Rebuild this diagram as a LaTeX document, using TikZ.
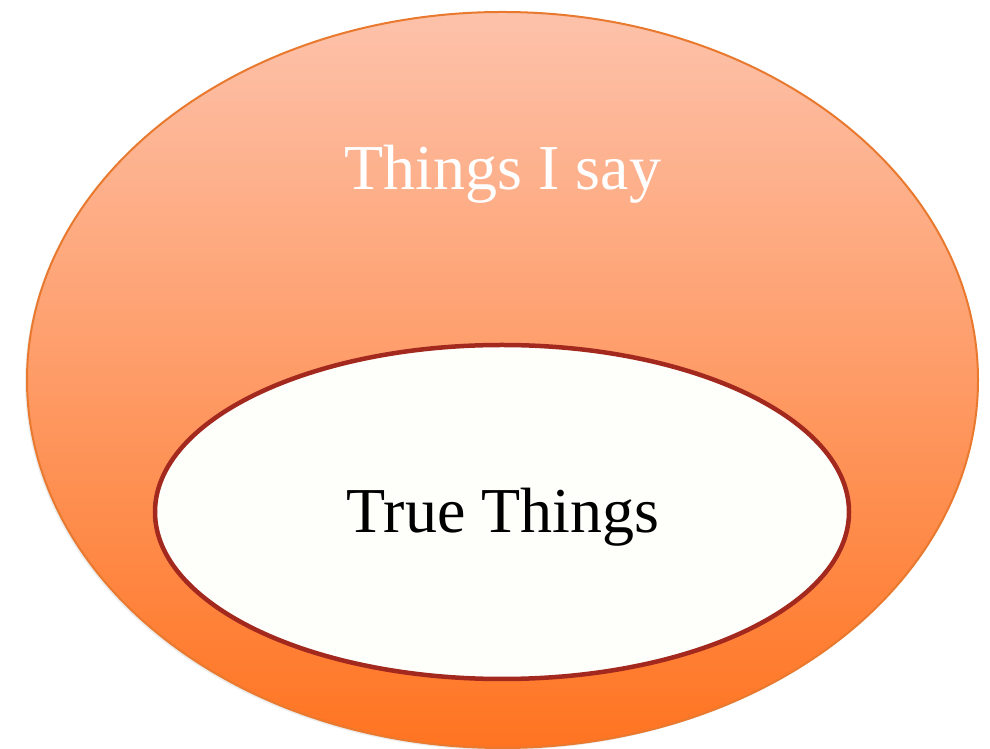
\documentclass[tikz,border=0pt]{standalone}
\usepackage{fontspec}
\setmainfont{Liberation Serif}
\usetikzlibrary{positioning, shapes.geometric, shadows}
\definecolor{myorange}{HTML}{E8792E}
\definecolor{mypeach}{HTML}{FDC2AB}
\definecolor{myfire}{HTML}{FF7421}
\definecolor{myred}{HTML}{A3291F}
\definecolor{mywhite}{HTML}{FEFEFB}

\begin{document}
\begin{tikzpicture}[
    x=1pt, y=1pt,
    % Estilos de los conjuntos
    outerset/.style={
        ellipse,
        draw=myorange,
        line width=2pt,
        top color=mypeach,
        bottom color=myfire,
        minimum width=951pt,
        minimum height=736pt,
        inner sep=0pt,
        drop shadow={opacity=0.15, shadow xshift=-2pt, shadow yshift=-2pt}
    },
    innerset/.style={
        ellipse,
        draw=myred,
        line width=4.5pt,
        fill=mywhite,
        minimum width=694pt,
        minimum height=334pt,
        inner sep=0pt
    },
    setlabel/.style={font=\fontsize{64}{72}\selectfont, anchor=base}
]
\useasboundingbox (0,0) rectangle (990,749);

% -- Conjuntos --
\node[outerset] (say) at (502.5,369) {};
\node[innerset] (true) at (502,237) {};

% -- Etiquetas --
\node[setlabel, text=white] (saylabel) at (503,559) {Things I say};
\node[setlabel, text=black] (truelabel) at (503,216) {True Things};

\end{tikzpicture}
\end{document}
